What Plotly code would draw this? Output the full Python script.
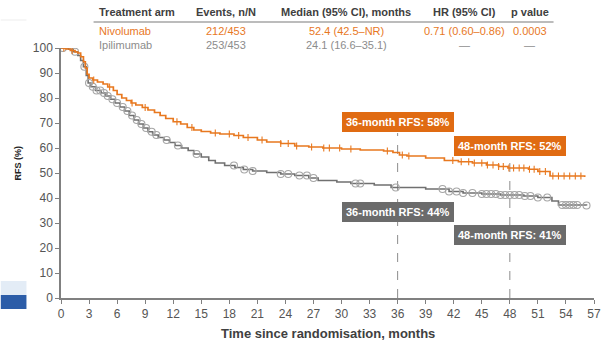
import numpy as np
import plotly.graph_objects as go

# Kaplan-Meier step points (months, RFS %)
nivo_t = [0, 0.5, 1.0, 1.5, 1.8, 2.1, 2.4, 2.6, 2.8, 3.0, 3.4, 3.9, 4.5, 5.0, 5.6, 6.0, 6.5,
          7.0, 7.5, 8.0, 8.7, 9.3, 10.0, 10.6, 11.2, 12.0, 12.8, 13.5, 14.2, 15.0, 16.0,
          17.0, 18.5, 19.5, 21.0, 22.0, 23.5, 25.0, 26.5, 28.0, 30.0, 32.0, 34.5, 35.5,
          36.2, 37.0, 39.0, 41.0, 42.5, 44.0, 45.5, 46.8, 47.8, 50.0, 51.0, 52.3, 56.0]
nivo_s = [100, 99.6, 99.0, 98.4, 98.0, 96.5, 94.5, 92.0, 89.5, 88.0, 87.2, 86.4, 85.6, 84.4,
          83.0, 81.4, 80.0, 79.0, 78.0, 77.2, 76.2, 75.2, 74.2, 73.0, 71.8, 70.5, 69.6,
          68.2, 67.2, 66.6, 66.0, 65.6, 65.0, 64.2, 63.2, 62.4, 61.8, 60.8, 60.4, 60.0,
          59.6, 59.2, 58.8, 58.2, 57.2, 56.8, 56.0, 55.0, 54.5, 54.0, 53.2, 52.6, 52.0,
          51.5, 50.6, 48.8, 48.4]

ipi_t = [0, 0.8, 1.3, 1.8, 2.1, 2.4, 2.7, 2.9, 3.2, 3.7, 4.3, 4.8, 5.3, 5.8, 6.3, 6.8, 7.3,
         7.8, 8.3, 8.8, 9.3, 9.8, 10.4, 11.0, 11.6, 12.2, 12.9, 13.6, 14.2, 15.0, 15.8,
         16.5, 17.5, 18.6, 19.5, 20.5, 22.0, 23.5, 25.0, 26.5, 27.5, 29.5, 31.0, 33.5,
         35.3, 39.0, 41.5, 43.0, 45.0, 47.0, 49.5, 51.0, 52.5, 53.2, 56.2]
ipi_s = [100, 99.5, 98.5, 97.0, 95.0, 92.5, 89.0, 86.0, 84.5, 83.0, 82.0, 80.8, 79.5, 78.0,
         76.4, 74.8, 73.0, 71.2, 69.6, 68.0, 66.5, 65.2, 64.2, 63.2, 62.2, 61.0, 60.0,
         59.0, 57.6, 56.4, 55.0, 54.0, 53.0, 52.2, 51.4, 50.8, 50.2, 49.6, 49.0, 48.0,
         47.0, 46.4, 45.8, 45.2, 44.2, 43.6, 42.6, 42.0, 41.6, 41.2, 40.8, 40.2, 38.8,
         37.2, 37.0]

# Censoring times
nivo_cens = [0.3, 1.2, 3.5, 5.2, 7.6, 9.0, 12.4, 14.0, 16.5, 18.0, 19.0, 20.0, 21.5, 23.5,
             24.3, 25.2, 26.8, 28.1, 28.7, 29.8, 31.0, 34.9, 36.5, 37.2, 41.9, 42.8, 43.6,
             44.2, 45.0, 45.6, 46.2, 46.8, 47.3, 47.9, 48.4, 49.0, 49.5, 50.1, 50.6, 51.2,
             51.8, 52.6, 53.2, 53.8, 54.4, 55.0, 55.6]
ipi_cens = [0.2, 1.5, 2.5, 3.0, 3.4, 3.8, 4.2, 4.6, 5.0, 5.5, 6.0, 6.6, 7.1, 7.6, 8.1, 8.6,
            9.1, 9.7, 10.2, 11.3, 12.5, 14.5, 18.5, 19.6, 20.5, 23.5, 24.3, 25.5, 26.3, 27.0,
            31.5, 32.0, 35.8, 40.8, 41.5, 42.3, 43.0, 44.0, 45.0, 45.5, 46.0, 46.5, 47.0,
            47.5, 48.0, 48.5, 49.0, 49.6, 50.2, 51.0, 52.0, 53.6, 54.0, 54.4, 54.8, 55.2,
            56.2]

x_ticks = list(range(0, 58, 3))
y_ticks = list(range(0, 101, 10))

# Landmark estimates shown in the boxes
landmarks = [
    (36, 58, 44),
    (48, 52, 41),
]

# Summary table
table_header = ["Treatment arm", "Events, n/N", "Median (95% CI), months", "HR (95% CI)", "p value"]
table_rows = [
    ["Nivolumab", "212/453", "52.4 (42.5–NR)", "0.71 (0.60–0.86)", "0.0003"],
    ["Ipilimumab", "253/453", "24.1 (16.6–35.1)", "—", "—"],
]

ORANGE = "#E8781F"
ORANGE_BOX = "#E06B12"
GREY_LINE = "#707070"
GREY_MARK = "#A6A6A6"
GREY_BOX = "#6B6B6B"
AXIS = "#808080"
FONT = "Liberation Sans, Arial, sans-serif"


def step_value(times, surv, t):
    i = int(np.searchsorted(np.asarray(times), t, side="right")) - 1
    return surv[max(i, 0)]


fig = go.Figure()

fig.add_trace(go.Scatter(x=ipi_t, y=ipi_s, mode="lines", line=dict(color=GREY_LINE, width=1.6, shape="hv"),
                         hoverinfo="skip", showlegend=False))
fig.add_trace(go.Scatter(x=ipi_cens, y=[step_value(ipi_t, ipi_s, t) for t in ipi_cens], mode="markers",
                         marker=dict(symbol="circle-open", size=7, color=GREY_MARK, line=dict(width=1.1)),
                         showlegend=False))
fig.add_trace(go.Scatter(x=nivo_t, y=nivo_s, mode="lines", line=dict(color=ORANGE, width=1.7, shape="hv"),
                         hoverinfo="skip", showlegend=False))
fig.add_trace(go.Scatter(x=nivo_cens, y=[step_value(nivo_t, nivo_s, t) for t in nivo_cens], mode="markers",
                         marker=dict(symbol="line-ns", size=5, color=ORANGE, line=dict(width=1.1, color=ORANGE)),
                         showlegend=False))

# Landmark dashed lines and value boxes
for month, nv, ip in landmarks:
    fig.add_shape(type="line", x0=month, x1=month, y0=0, y1=nv + 8 if month == 36 else nv + 6,
                  line=dict(color="#8C8C8C", width=1, dash="dash"), layer="below")
for month, nv, ip in landmarks:
    dy_o = 12.4 if month == 36 else 8.8
    dy_g = -9.6 if month == 36 else -15.8
    fig.add_annotation(x=month, y=nv + dy_o, text=f"<b>{month}-month RFS: {nv}%</b>", showarrow=False,
                       font=dict(family=FONT, size=11, color="white"), bgcolor=ORANGE_BOX,
                       borderpad=3, bordercolor=ORANGE_BOX, borderwidth=1)
    fig.add_annotation(x=month, y=ip + dy_g, text=f"<b>{month}-month RFS: {ip}%</b>", showarrow=False,
                       font=dict(family=FONT, size=11, color="white"), bgcolor=GREY_BOX,
                       borderpad=3, bordercolor=GREY_BOX, borderwidth=1)

# Summary table above the plot
PX_L, PX_W, PX_B, PX_H = 61, 540, 298, 250


def px_x(px):
    return (px - PX_L) / PX_W


def px_y(py):
    return (PX_B - py) / PX_H


col_x = [97, 228, 350, 470, 536]
col_anchor = ["left", "center", "center", "center", "center"]
for j, h in enumerate(table_header):
    fig.add_annotation(xref="paper", yref="paper", x=px_x(col_x[j]), y=px_y(12), text=f"<b>{h}</b>",
                       showarrow=False, xanchor=col_anchor[j], yanchor="middle",
                       font=dict(family=FONT, size=11, color="#404040"))
row_colors = [ORANGE, "#8C8C8C"]
for r, row in enumerate(table_rows):
    for j, cell in enumerate(row):
        fig.add_annotation(xref="paper", yref="paper", x=px_x(col_x[j]), y=px_y(31 + 14 * r), text=cell,
                           showarrow=False, xanchor=col_anchor[j], yanchor="middle",
                           font=dict(family=FONT, size=11, color=row_colors[r]))
fig.add_shape(type="line", xref="paper", yref="paper", x0=px_x(94), x1=px_x(560), y0=px_y(22), y1=px_y(22),
              line=dict(color="#7A7A7A", width=1.2))

# Axis titles
fig.add_annotation(xref="paper", yref="paper", x=px_x(17), y=px_y(163), text="<b>RFS (%)</b>", textangle=-90,
                   showarrow=False, xanchor="center", yanchor="middle",
                   font=dict(family=FONT, size=9, color="#222222"))
fig.add_annotation(xref="paper", yref="paper", x=px_x(332), y=px_y(333),
                   text="<b>Time since randomisation, months</b>", showarrow=False,
                   xanchor="center", yanchor="middle", font=dict(family=FONT, size=13, color="#404040"))

# Slide decoration at the left edge
fig.add_shape(type="line", xref="paper", yref="paper", x0=px_x(0), x1=px_x(26), y0=px_y(20), y1=px_y(20),
              line=dict(color="#EDEDED", width=1), layer="below")
fig.add_shape(type="rect", xref="paper", yref="paper", x0=px_x(0), x1=px_x(26), y0=px_y(295), y1=px_y(281),
              fillcolor="#E3ECF6", line=dict(width=0), layer="below")
fig.add_shape(type="rect", xref="paper", yref="paper", x0=px_x(0), x1=px_x(26), y0=px_y(309), y1=px_y(295),
              fillcolor="#2C5DA8", line=dict(width=0), layer="below")

fig.update_layout(
    width=609, height=343,
    margin=dict(l=61, r=8, t=48, b=45),
    plot_bgcolor="white", paper_bgcolor="white",
    font=dict(family=FONT, size=12, color="#555555"),
    xaxis=dict(range=[0, 57], tickvals=x_ticks, ticks="outside", ticklen=4, tickcolor=AXIS, tickwidth=1.3,
               showline=True, linecolor=AXIS, linewidth=1.5, showgrid=False, zeroline=False,
               tickfont=dict(size=12, color="#555555")),
    yaxis=dict(range=[0, 100], tickvals=y_ticks, ticks="outside", ticklen=4, tickcolor=AXIS, tickwidth=1.3,
               showline=True, linecolor=AXIS, linewidth=1.5, showgrid=False, zeroline=False,
               tickfont=dict(size=12, color="#555555")),
)

fig.write_html("out.html")
